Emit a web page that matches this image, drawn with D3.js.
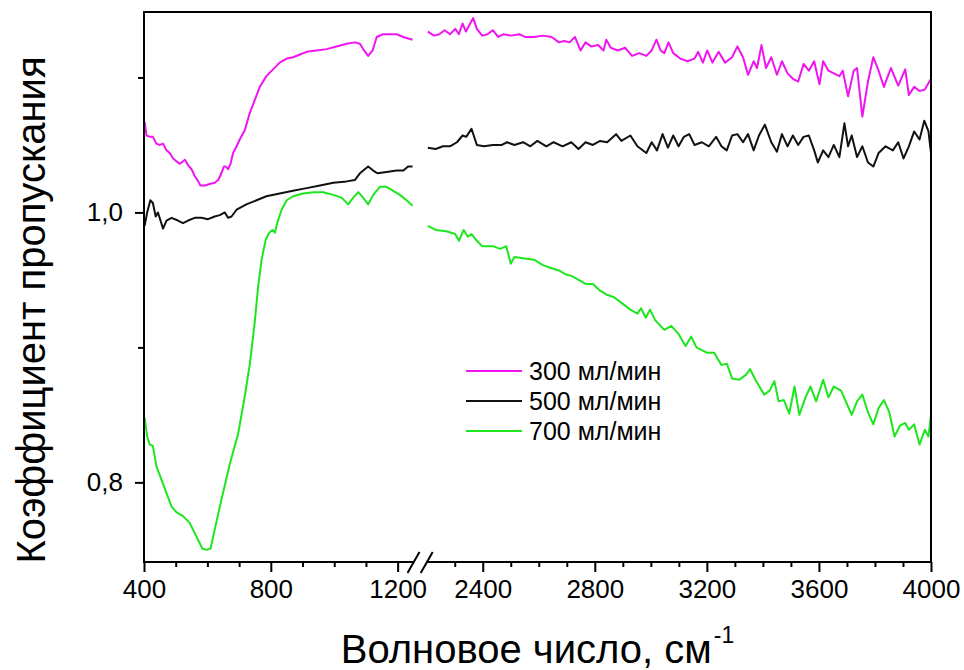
<!DOCTYPE html>
<html>
<head>
<meta charset="utf-8">
<script src="https://cdnjs.cloudflare.com/ajax/libs/d3/7.8.5/d3.min.js"></script>
<style>
  body { margin: 0; background: #fff; }
  svg { font-family: "Liberation Sans", Arial, sans-serif; }
  .tick text { fill: #000; }
</style>
</head>
<body>
<div class="chart-container"></div>
<script>
// series names (legend)
var seriesNames = ["300 мл/мин", "500 мл/мин", "700 мл/мин"];
var seriesColors = ["#f014f0", "#111111", "#1ee61e"];

// x ticks for the two parts of the broken axis
var xTicksLo = [400, 800, 1200];
var xMinorLo = [500, 600, 700, 900, 1000, 1100];
var xTicksHi = [2400, 2800, 3200, 3600, 4000];
var xMinorHi = [2300, 2500, 2600, 2700, 2900, 3000, 3100, 3300, 3400, 3500, 3700, 3800, 3900];
var yTicks = [0.8, 1.0];
var yMinor = [0.9, 1.1];

// [wavenumber, transmittance]
var t300 = [[402,1.067],[408,1.057],[418,1.056],[428,1.056],[439,1.051],[450,1.050],[460,1.051],[471,1.046],[481,1.044],[492,1.040],[502,1.038],[513,1.036],[529,1.039],[539,1.035],[550,1.032],[560,1.027],[571,1.023],[578,1.020],[592,1.020],[607,1.021],[623,1.022],[634,1.024],[644,1.029],[652,1.034],[658,1.034],[665,1.032],[673,1.036],[681,1.044],[692,1.049],[702,1.054],[718,1.061],[734,1.074],[749,1.083],[765,1.093],[786,1.101],[807,1.106],[828,1.111],[850,1.114],[870,1.115],[892,1.117],[913,1.119],[944,1.120],[976,1.121],[1007,1.123],[1039,1.125],[1065,1.126],[1081,1.125],[1094,1.120],[1107,1.116],[1121,1.120],[1134,1.130],[1154,1.132],[1176,1.132],[1197,1.132],[1218,1.130],[1247,1.128],
  [2204,1.134],[2226,1.131],[2245,1.132],[2264,1.135],[2283,1.132],[2302,1.136],[2315,1.132],[2328,1.140],[2340,1.134],[2353,1.139],[2366,1.144],[2379,1.136],[2398,1.131],[2417,1.132],[2436,1.135],[2455,1.130],[2474,1.132],[2500,1.131],[2532,1.132],[2551,1.130],[2583,1.130],[2615,1.131],[2646,1.130],[2672,1.126],[2691,1.127],[2710,1.126],[2729,1.130],[2749,1.120],[2767,1.126],[2787,1.123],[2812,1.124],[2831,1.120],[2841,1.128],[2857,1.122],[2882,1.120],[2908,1.122],[2933,1.116],[2959,1.118],[2984,1.116],[3003,1.120],[3020,1.128],[3035,1.120],[3048,1.118],[3063,1.126],[3080,1.118],[3105,1.114],[3131,1.112],[3156,1.114],[3169,1.119],[3186,1.111],[3201,1.120],[3220,1.111],[3242,1.119],[3265,1.111],[3290,1.115],[3309,1.123],[3329,1.115],[3347,1.102],[3367,1.112],[3379,1.107],[3395,1.124],[3411,1.107],[3430,1.115],[3450,1.102],[3468,1.112],[3488,1.103],[3507,1.099],[3526,1.097],[3545,1.110],[3564,1.105],[3583,1.112],[3602,1.095],[3615,1.112],[3634,1.105],[3653,1.103],[3673,1.101],[3685,1.105],[3704,1.086],[3724,1.105],[3736,1.107],[3755,1.071],[3775,1.097],[3794,1.115],[3813,1.105],[3832,1.093],[3857,1.107],[3883,1.094],[3908,1.106],[3921,1.087],[3940,1.093],[3959,1.090],[3978,1.091],[4000,1.099]];

var t500 = [[402,0.990],[410,1.000],[420,1.009],[428,1.007],[437,0.997],[444,1.000],[452,0.994],[460,0.988],[471,0.994],[487,0.996],[507,0.994],[523,0.992],[539,0.994],[560,0.996],[581,0.996],[602,0.995],[623,0.997],[639,0.998],[655,1.000],[665,0.996],[676,0.997],[692,1.002],[723,1.006],[755,1.009],[786,1.012],[828,1.014],[870,1.016],[913,1.018],[955,1.020],[997,1.022],[1039,1.023],[1065,1.024],[1081,1.029],[1107,1.034],[1123,1.031],[1136,1.029],[1165,1.030],[1197,1.031],[1218,1.031],[1233,1.034],[1247,1.034],
  [2204,1.048],[2232,1.047],[2258,1.049],[2283,1.049],[2308,1.052],[2328,1.057],[2341,1.056],[2360,1.062],[2379,1.050],[2404,1.049],[2436,1.050],[2468,1.050],[2487,1.052],[2513,1.050],[2544,1.052],[2570,1.049],[2595,1.053],[2627,1.049],[2653,1.052],[2685,1.049],[2716,1.052],[2742,1.047],[2767,1.052],[2793,1.050],[2819,1.053],[2844,1.052],[2876,1.058],[2895,1.053],[2927,1.057],[2952,1.049],[2984,1.044],[3003,1.052],[3022,1.046],[3042,1.058],[3061,1.048],[3080,1.057],[3099,1.049],[3118,1.056],[3137,1.058],[3156,1.050],[3182,1.052],[3207,1.049],[3233,1.056],[3252,1.049],[3271,1.046],[3290,1.057],[3309,1.058],[3329,1.052],[3347,1.058],[3367,1.046],[3386,1.057],[3407,1.065],[3430,1.052],[3450,1.045],[3468,1.058],[3488,1.049],[3507,1.057],[3526,1.050],[3545,1.056],[3564,1.057],[3583,1.046],[3596,1.037],[3615,1.046],[3634,1.041],[3653,1.050],[3673,1.041],[3691,1.066],[3704,1.049],[3717,1.057],[3736,1.041],[3755,1.049],[3775,1.037],[3794,1.034],[3813,1.044],[3838,1.049],[3864,1.046],[3883,1.052],[3902,1.040],[3921,1.049],[3940,1.060],[3959,1.054],[3976,1.068],[3991,1.060],[4000,1.044]];

var t700 = [[402,0.848],[410,0.834],[418,0.828],[428,0.827],[439,0.812],[455,0.802],[471,0.792],[487,0.782],[502,0.778],[523,0.775],[544,0.770],[565,0.760],[584,0.751],[597,0.750],[610,0.751],[623,0.765],[644,0.787],[671,0.814],[697,0.836],[718,0.864],[734,0.888],[749,0.918],[760,0.945],[771,0.965],[784,0.980],[795,0.985],[805,0.987],[813,0.985],[820,0.992],[834,1.002],[850,1.009],[870,1.012],[902,1.014],[934,1.015],[965,1.015],[997,1.013],[1023,1.011],[1044,1.006],[1060,1.011],[1076,1.015],[1091,1.011],[1107,1.006],[1123,1.013],[1144,1.019],[1165,1.019],[1186,1.016],[1207,1.013],[1228,1.009],[1247,1.005],
  [2204,0.990],[2232,0.987],[2270,0.986],[2302,0.984],[2315,0.979],[2332,0.987],[2347,0.982],[2360,0.984],[2379,0.979],[2398,0.975],[2436,0.975],[2462,0.973],[2484,0.975],[2500,0.962],[2513,0.967],[2544,0.966],[2583,0.965],[2615,0.961],[2640,0.959],[2672,0.957],[2698,0.954],[2716,0.953],[2742,0.950],[2767,0.947],[2793,0.947],[2819,0.942],[2844,0.939],[2870,0.937],[2895,0.933],[2927,0.928],[2952,0.925],[2965,0.929],[2982,0.922],[2997,0.928],[3016,0.920],[3048,0.913],[3073,0.916],[3099,0.910],[3124,0.901],[3144,0.908],[3163,0.900],[3201,0.896],[3226,0.896],[3252,0.887],[3271,0.888],[3290,0.877],[3316,0.876],[3341,0.880],[3354,0.884],[3373,0.876],[3405,0.865],[3424,0.868],[3441,0.875],[3456,0.860],[3475,0.861],[3494,0.851],[3513,0.871],[3530,0.850],[3552,0.863],[3570,0.871],[3590,0.860],[3615,0.876],[3634,0.863],[3653,0.871],[3679,0.868],[3698,0.859],[3717,0.850],[3736,0.860],[3755,0.865],[3775,0.852],[3794,0.843],[3813,0.855],[3832,0.861],[3851,0.852],[3870,0.834],[3889,0.842],[3908,0.844],[3921,0.839],[3940,0.843],[3959,0.828],[3978,0.839],[3991,0.834],[4000,0.850]];

var allSeries = [t300, t500, t700];

var width = 964, height = 670;
var margin = {top: 12, left: 144, bottom: 562, right: 931};

var svg = d3.select(".chart-container").append("svg")
    .attr("width", width)
    .attr("height", height);

// broken x axis = two linear scales side by side
var xLo = d3.scaleLinear().domain([400, 1250]).range([margin.left, 413.5]);
var xHi = d3.scaleLinear().domain([2200, 4000]).range([426.7, margin.right]);
var y = d3.scaleLinear().domain([0.741, 1.1485]).range([margin.bottom, margin.top]);

var ru = d3.formatLocale({decimal: ",", thousands: " ", grouping: [3], currency: ["", ""]});

// clip each half of the plot
var defs = svg.append("defs");
[["clipLo", xLo], ["clipHi", xHi]].forEach(function(c) {
  var r = c[1].range();
  defs.append("clipPath").attr("id", c[0])
    .append("rect")
      .attr("x", r[0]).attr("y", margin.top)
      .attr("width", r[1] - r[0]).attr("height", margin.bottom - margin.top);
});

function drawLines(scale, clipId, lo, hi) {
  var line = d3.line()
      .x(function(d) { return scale(d[0]); })
      .y(function(d) { return y(d[1]); });
  var g = svg.append("g").attr("clip-path", "url(#" + clipId + ")");
  allSeries.forEach(function(s, i) {
    g.append("path")
      .datum(s.filter(function(d) { return d[0] >= lo && d[0] <= hi; }))
      .attr("d", line)
      .style("fill", "none")
      .style("stroke", seriesColors[i])
      .style("stroke-width", 2)
      .style("stroke-linejoin", "round");
  });
}
drawLines(xLo, "clipLo", 400, 1250);
drawLines(xHi, "clipHi", 2200, 4000);

// x axes (ticks only, the axis line is drawn by hand because of the break)
function xAxisPart(scale, major, minor) {
  var gMaj = svg.append("g")
      .attr("transform", "translate(0," + margin.bottom + ")")
      .call(d3.axisBottom(scale).tickValues(major).tickSize(10).tickPadding(8).tickFormat(d3.format("d")));
  var gMin = svg.append("g")
      .attr("transform", "translate(0," + margin.bottom + ")")
      .call(d3.axisBottom(scale).tickValues(minor).tickSize(5).tickFormat(""));
  [gMaj, gMin].forEach(function(g) {
    g.select(".domain").remove();
    g.selectAll("line").style("stroke", "#000").style("stroke-width", 2);
  });
  gMaj.selectAll("text").style("font-size", "26px");
}
xAxisPart(xLo, xTicksLo, xMinorLo);
xAxisPart(xHi, xTicksHi, xMinorHi);

// y axis
var yMaj = svg.append("g")
    .attr("transform", "translate(" + margin.left + ",0)")
    .call(d3.axisLeft(y).tickValues(yTicks).tickSize(9).tickPadding(12).tickFormat(ru.format(".1f")));
var yMin = svg.append("g")
    .attr("transform", "translate(" + margin.left + ",0)")
    .call(d3.axisLeft(y).tickValues(yMinor).tickSize(6).tickFormat(""));
[yMaj, yMin].forEach(function(g) {
  g.select(".domain").remove();
  g.selectAll("line").style("stroke", "#000").style("stroke-width", 2);
});
yMaj.selectAll("text").style("font-size", "26px");

// frame + broken bottom axis
var frame = svg.append("g").style("stroke", "#000").style("stroke-width", 2).style("fill", "none");
frame.append("path").attr("d", d3.line()([
  [xLo.range()[1], margin.bottom], [margin.left, margin.bottom], [margin.left, margin.top],
  [margin.right, margin.top], [margin.right, margin.bottom], [xHi.range()[0], margin.bottom]
]));
// the two break slashes
[xLo.range()[1], xHi.range()[0]].forEach(function(bx) {
  frame.append("line")
    .attr("x1", bx - 6).attr("y1", margin.bottom + 11)
    .attr("x2", bx + 6).attr("y2", margin.bottom - 10);
});

// axis titles
var xt = svg.append("text")
    .attr("x", (margin.left + margin.right) / 2)
    .attr("y", 663)
    .style("text-anchor", "middle")
    .style("font-size", "40px")
    .text("Волновое число, см");
xt.append("tspan")
    .attr("dy", -20)
    .attr("dx", 2)
    .style("font-size", "23px")
    .text("-1");

svg.append("text")
    .attr("transform", "rotate(-90)")
    .attr("x", -310)
    .attr("y", 45)
    .style("text-anchor", "middle")
    .style("font-size", "40px")
    .text("Коэффициент пропускания");

// legend
var legend = svg.append("g").attr("transform", "translate(466,371)");
seriesNames.forEach(function(name, i) {
  var row = legend.append("g").attr("transform", "translate(0," + (i * 30) + ")");
  row.append("line")
    .attr("x1", 0).attr("x2", 56)
    .style("stroke", seriesColors[i])
    .style("stroke-width", 2);
  row.append("text")
    .attr("x", 63)
    .attr("y", 8.5)
    .style("font-size", "25px")
    .text(name);
});
</script>
</body>
</html>
